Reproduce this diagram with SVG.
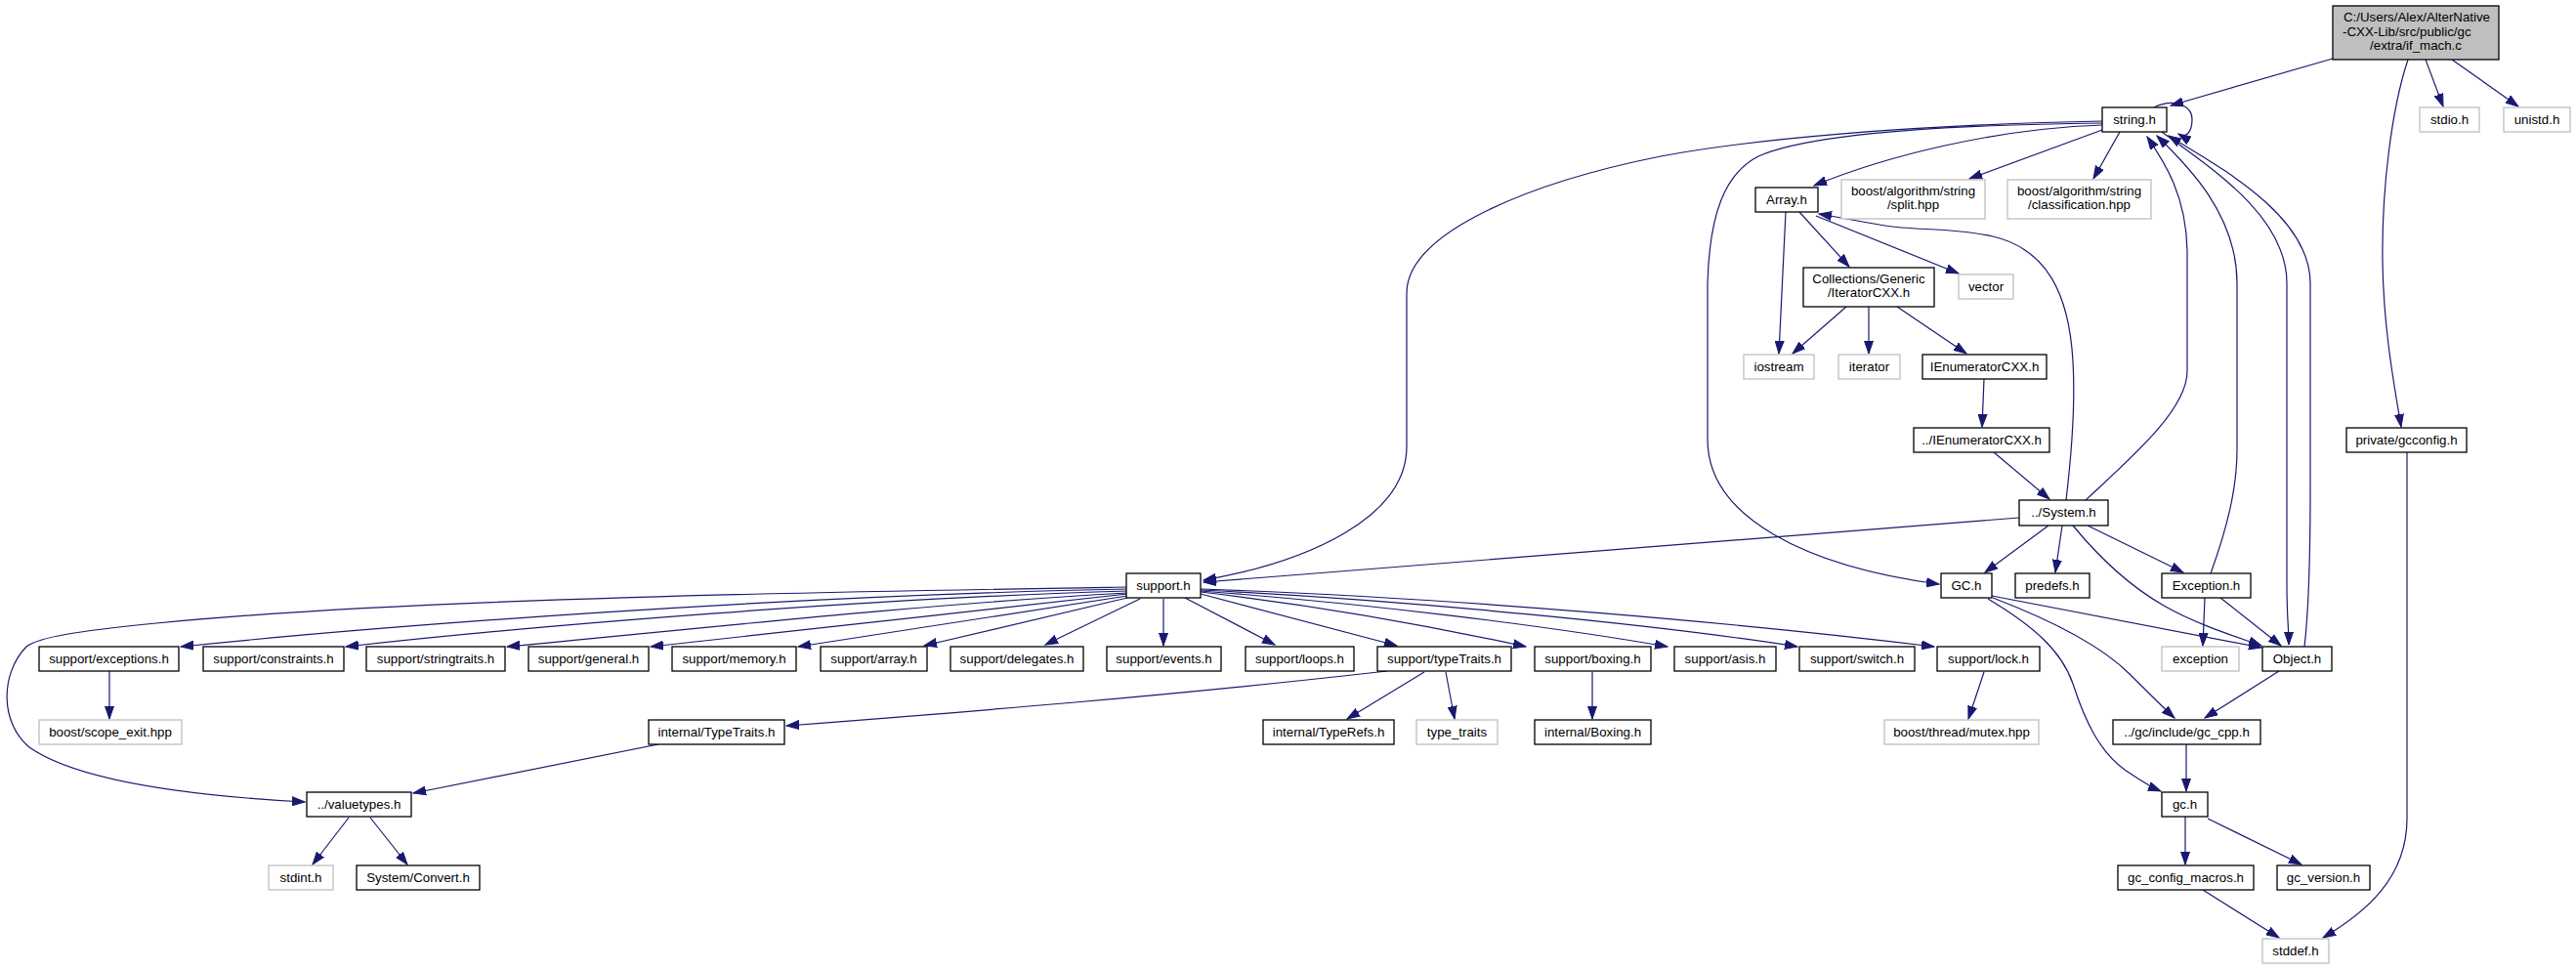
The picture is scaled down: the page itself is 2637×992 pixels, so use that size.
<svg xmlns="http://www.w3.org/2000/svg" width="2637" height="992" viewBox="0 0 2637 992">
<style>
.n rect{fill:#fff;stroke:#000;stroke-width:1.3}
.u rect{fill:#fff;stroke:#bfbfbf;stroke-width:1.3}
.r rect{fill:#bfbfbf;stroke:#000;stroke-width:1.3}
text{font-family:"Liberation Sans",Arial,sans-serif;font-size:13.3px;fill:#000;text-anchor:middle}
#edges path{fill:none;stroke:#191970;stroke-width:1.2;marker-end:url(#a)}
</style>
<defs>
<marker id="a" markerWidth="14" markerHeight="10" refX="13" refY="5" orient="auto" markerUnits="userSpaceOnUse">
<path d="M0,0.5 L13,5 L0,9.5 z" fill="#191970" stroke="#191970" stroke-width="1"/>
</marker>
</defs>
<rect width="2637" height="992" fill="#fff"/>
<g id="edges">
<path d="M2388,60 L2222,108"/>
<path d="M2483,61 L2501,109"/>
<path d="M2510,61 L2578,109"/>
<path d="M2465,61 C2448,112 2438,195 2439,268 C2440,340 2452,400 2458,437"/>
<path d="M2205,110 C2225,100 2244,108 2244,122 C2244,135 2238,142 2230,137"/>
<path d="M2152,124 C1950,128 1790,143 1700,160 C1560,188 1440,240 1440,300 L1440,457 C1440,530 1340,575 1232,594"/>
<path d="M2152,126 C1980,128 1850,138 1800,160 C1765,178 1750,220 1748,290 L1748,450 C1748,530 1850,580 1985,598"/>
<path d="M2152,128 C2040,132 1930,160 1857,190"/>
<path d="M2152,133 L2016,183"/>
<path d="M2170,135 L2143,183"/>
<path d="M2213,135 C2260,170 2341,220 2341,290 L2341,600 C2341,630 2343,645 2343,660" />
<path d="M2135,512 C2180,470 2239,420 2239,380 L2239,260 C2239,200 2215,165 2198,140"/>
<path d="M2263,587 C2280,540 2290,500 2290,460 L2290,290 C2290,220 2240,170 2208,139"/>
<path d="M2359,662 C2364,620 2365,560 2365,500 L2365,290 C2365,220 2270,170 2220,139"/>
<path d="M2115,512 C2120,470 2125,420 2122,370 C2118,300 2095,255 2040,242 C2000,233 1960,236 1930,231 C1900,226 1880,222 1862,219"/>
<path d="M2041,463 L2098,511"/>
<path d="M2031,388 L2029,437"/>
<path d="M1890,314 L1835,362"/>
<path d="M1913,314 L1913,362"/>
<path d="M1942,314 L2013,362"/>
<path d="M1828,217 L1821,362"/>
<path d="M1842,217 L1893,273"/>
<path d="M1859,221 L2005,280"/>
<path d="M2067,530 L1232,596"/>
<path d="M2097,538 L2032,586"/>
<path d="M2111,538 L2104,586"/>
<path d="M2137,538 L2235,586"/>
<path d="M2122,538 C2150,572 2180,600 2215,620 C2250,640 2290,652 2315,661"/>
<path d="M2039,610 L2315,663"/>
<path d="M2040,612 C2100,635 2150,660 2180,690 C2200,710 2215,725 2226,735"/>
<path d="M2035,613 C2080,640 2110,665 2122,700 C2135,740 2150,770 2175,788 C2190,798 2200,805 2212,810"/>
<path d="M2257,612 L2255,661"/>
<path d="M2273,612 L2335,661"/>
<path d="M2333,687 L2257,735"/>
<path d="M2238,762 L2238,810"/>
<path d="M2237,836 L2237,885"/>
<path d="M2260,838 L2356,885"/>
<path d="M2255,911 L2333,960"/>
<path d="M2464,463 L2464,838 C2464,900 2420,935 2378,960"/>
<path d="M1154,601 C900,605 420,612 160,638 C80,646 40,652 27,662 C0,690 0,740 30,765 C80,800 200,815 312,821"/>
<path d="M1154,603 C800,610 400,640 185,662"/>
<path d="M1154,605 C900,612 550,640 354,662"/>
<path d="M1154,607 C950,618 700,645 519,662"/>
<path d="M1154,608 C1000,625 800,648 666,662"/>
<path d="M1154,610 L817,662"/>
<path d="M1154,612 L946,661"/>
<path d="M1167,613 L1070,660"/>
<path d="M1191,613 L1191,661"/>
<path d="M1213,612 L1305,660"/>
<path d="M1229,608 L1430,661"/>
<path d="M1229,606 C1350,620 1470,642 1562,662"/>
<path d="M1229,605 C1400,618 1580,640 1707,662"/>
<path d="M1229,604 C1450,615 1700,640 1840,662"/>
<path d="M1229,603 C1500,612 1800,640 1980,662"/>
<path d="M112,687 L112,736"/>
<path d="M1458,688 L1379,736"/>
<path d="M1420,687 C1200,712 1000,728 805,743"/>
<path d="M1480,688 L1489,736"/>
<path d="M1630,688 L1630,736"/>
<path d="M2031,688 L2015,736"/>
<path d="M674,762 L423,812"/>
<path d="M357,837 L320,885"/>
<path d="M379,837 L417,885"/>
</g>
<g id="root" class="r"><rect x="2388" y="6" width="170" height="55"/><text x="2399" y="22" style="text-anchor:start">C:/Users/Alex/AlterNative</text><text x="2398" y="36.5" style="text-anchor:start">-CXX-Lib/src/public/gc</text><text x="2473" y="51">/extra/if_mach.c</text></g>
<g id="string_h" class="n"><rect x="2152" y="110" width="66" height="25"/><text x="2185" y="126.5">string.h</text></g>
<g id="stdio_h" class="u"><rect x="2477" y="110" width="61" height="25"/><text x="2507.5" y="126.5">stdio.h</text></g>
<g id="unistd_h" class="u"><rect x="2563" y="110" width="68" height="25"/><text x="2597" y="126.5">unistd.h</text></g>
<g id="array_h" class="n"><rect x="1797" y="192" width="64" height="25"/><text x="1829" y="208.5">Array.h</text></g>
<g id="split_hpp" class="u"><rect x="1885" y="184" width="147" height="40"/><text x="1958.5" y="200">boost/algorithm/string</text><text x="1958.5" y="214">/split.hpp</text></g>
<g id="classification_hpp" class="u"><rect x="2055" y="184" width="147" height="40"/><text x="2128.5" y="200">boost/algorithm/string</text><text x="2128.5" y="214">/classification.hpp</text></g>
<g id="iteratorcxx_h" class="n"><rect x="1846" y="274" width="134" height="40"/><text x="1913" y="290">Collections/Generic</text><text x="1913" y="304">/IteratorCXX.h</text></g>
<g id="vector" class="u"><rect x="2005" y="281" width="56" height="25"/><text x="2033" y="297.5">vector</text></g>
<g id="iostream" class="u"><rect x="1785" y="363" width="72" height="25"/><text x="1821" y="379.5">iostream</text></g>
<g id="iterator" class="u"><rect x="1882" y="363" width="63" height="25"/><text x="1913.5" y="379.5">iterator</text></g>
<g id="ienumeratorcxx_h" class="n"><rect x="1968" y="363" width="127" height="25"/><text x="2031.5" y="379.5">IEnumeratorCXX.h</text></g>
<g id="up_ienumeratorcxx_h" class="n"><rect x="1959" y="438" width="139" height="25"/><text x="2028.5" y="454.5">../IEnumeratorCXX.h</text></g>
<g id="gcconfig_h" class="n"><rect x="2402" y="438" width="123" height="25"/><text x="2463.5" y="454.5">private/gcconfig.h</text></g>
<g id="system_h" class="n"><rect x="2067" y="512" width="91" height="26"/><text x="2112.5" y="529">../System.h</text></g>
<g id="support_h" class="n"><rect x="1153" y="587" width="76" height="25"/><text x="1191" y="603.5">support.h</text></g>
<g id="GC_h" class="n"><rect x="1987" y="587" width="52" height="25"/><text x="2013" y="603.5">GC.h</text></g>
<g id="predefs_h" class="n"><rect x="2063" y="587" width="76" height="25"/><text x="2101" y="603.5">predefs.h</text></g>
<g id="exception_h" class="n"><rect x="2213" y="587" width="91" height="25"/><text x="2258.5" y="603.5">Exception.h</text></g>
<g id="support_exceptions_h" class="n"><rect x="40" y="662" width="143" height="25"/><text x="111.5" y="678.5">support/exceptions.h</text></g>
<g id="support_constraints_h" class="n"><rect x="208" y="662" width="144" height="25"/><text x="280" y="678.5">support/constraints.h</text></g>
<g id="support_stringtraits_h" class="n"><rect x="375" y="662" width="142" height="25"/><text x="446" y="678.5">support/stringtraits.h</text></g>
<g id="support_general_h" class="n"><rect x="541" y="662" width="123" height="25"/><text x="602.5" y="678.5">support/general.h</text></g>
<g id="support_memory_h" class="n"><rect x="688" y="662" width="127" height="25"/><text x="751.5" y="678.5">support/memory.h</text></g>
<g id="support_array_h" class="n"><rect x="840" y="662" width="109" height="25"/><text x="894.5" y="678.5">support/array.h</text></g>
<g id="support_delegates_h" class="n"><rect x="973" y="662" width="136" height="25"/><text x="1041" y="678.5">support/delegates.h</text></g>
<g id="support_events_h" class="n"><rect x="1133" y="662" width="117" height="25"/><text x="1191.5" y="678.5">support/events.h</text></g>
<g id="support_loops_h" class="n"><rect x="1275" y="662" width="111" height="25"/><text x="1330.5" y="678.5">support/loops.h</text></g>
<g id="support_typetraits_h" class="n"><rect x="1410" y="662" width="137" height="25"/><text x="1478.5" y="678.5">support/typeTraits.h</text></g>
<g id="support_boxing_h" class="n"><rect x="1571" y="662" width="119" height="25"/><text x="1630.5" y="678.5">support/boxing.h</text></g>
<g id="support_asis_h" class="n"><rect x="1714" y="662" width="104" height="25"/><text x="1766" y="678.5">support/asis.h</text></g>
<g id="support_switch_h" class="n"><rect x="1842" y="662" width="118" height="25"/><text x="1901" y="678.5">support/switch.h</text></g>
<g id="support_lock_h" class="n"><rect x="1983" y="662" width="105" height="25"/><text x="2035.5" y="678.5">support/lock.h</text></g>
<g id="exception" class="u"><rect x="2213" y="662" width="79" height="25"/><text x="2252.5" y="678.5">exception</text></g>
<g id="object_h" class="n"><rect x="2316" y="662" width="71" height="25"/><text x="2351.5" y="678.5">Object.h</text></g>
<g id="scope_exit_hpp" class="u"><rect x="40" y="737" width="146" height="25"/><text x="113" y="753.5">boost/scope_exit.hpp</text></g>
<g id="internal_typetraits_h" class="n"><rect x="664" y="737" width="139" height="25"/><text x="733.5" y="753.5">internal/TypeTraits.h</text></g>
<g id="internal_typerefs_h" class="n"><rect x="1293" y="737" width="134" height="25"/><text x="1360" y="753.5">internal/TypeRefs.h</text></g>
<g id="type_traits" class="u"><rect x="1450" y="737" width="83" height="25"/><text x="1491.5" y="753.5">type_traits</text></g>
<g id="internal_boxing_h" class="n"><rect x="1571" y="737" width="119" height="25"/><text x="1630.5" y="753.5">internal/Boxing.h</text></g>
<g id="mutex_hpp" class="u"><rect x="1929" y="737" width="158" height="25"/><text x="2008" y="753.5">boost/thread/mutex.hpp</text></g>
<g id="gc_cpp_h" class="n"><rect x="2163" y="737" width="151" height="25"/><text x="2238.5" y="753.5">../gc/include/gc_cpp.h</text></g>
<g id="valuetypes_h" class="n"><rect x="314" y="811" width="107" height="25"/><text x="367.5" y="827.5">../valuetypes.h</text></g>
<g id="gc_h" class="n"><rect x="2213" y="811" width="47" height="25"/><text x="2236.5" y="827.5">gc.h</text></g>
<g id="stdint_h" class="u"><rect x="275" y="886" width="66" height="25"/><text x="308" y="902.5">stdint.h</text></g>
<g id="convert_h" class="n"><rect x="365" y="886" width="126" height="25"/><text x="428" y="902.5">System/Convert.h</text></g>
<g id="gc_config_macros_h" class="n"><rect x="2168" y="886" width="139" height="25"/><text x="2237.5" y="902.5">gc_config_macros.h</text></g>
<g id="gc_version_h" class="n"><rect x="2331" y="886" width="95" height="25"/><text x="2378.5" y="902.5">gc_version.h</text></g>
<g id="stddef_h" class="u"><rect x="2316" y="961" width="68" height="25"/><text x="2350" y="977.5">stddef.h</text></g>
</svg>
